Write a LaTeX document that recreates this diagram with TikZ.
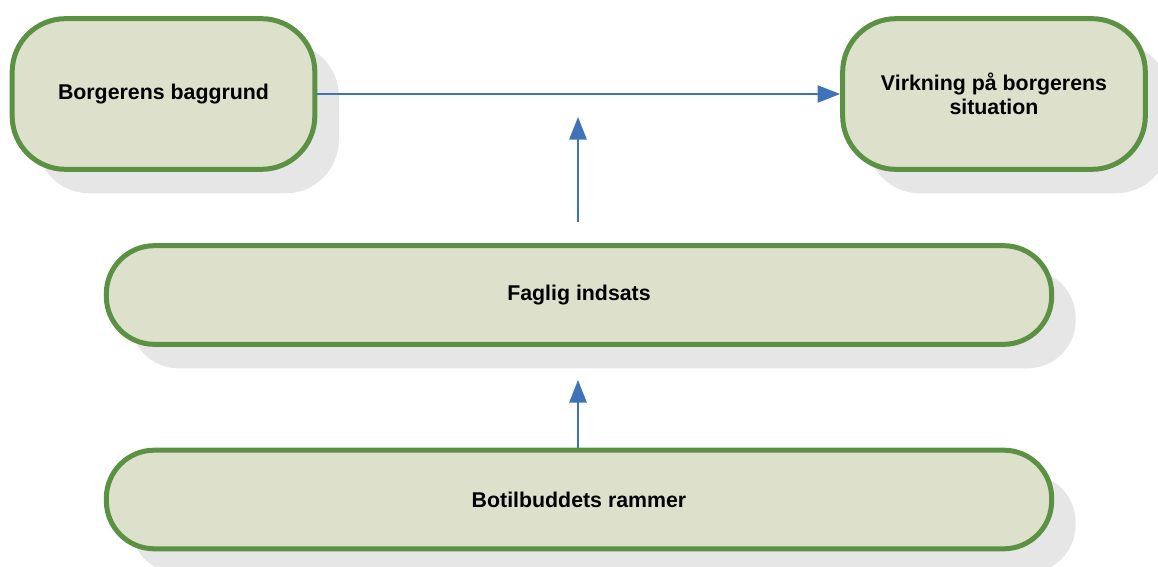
\documentclass[tikz,border=0pt]{standalone}
\usepackage{fontspec}
\setmainfont{Liberation Sans}
\usetikzlibrary{arrows.meta,shadows}
\definecolor{boxfill}{HTML}{DDE1CC}
\definecolor{boxline}{HTML}{5A9142}
\definecolor{shadowgray}{HTML}{E6E6E6}
\definecolor{arrowblue}{HTML}{3F73B8}
\begin{document}
\begin{tikzpicture}[x=0.75pt,y=-0.75pt,
  pill/.style={draw=boxline, fill=boxfill, line width=3.75pt, rounded corners=36pt,
    font=\bfseries\fontsize{16}{18}\selectfont, align=center, inner sep=0pt,
    general shadow={fill=shadowgray, shadow xshift=18pt, shadow yshift=-18pt}},
  conn/.style={draw=arrowblue, -{Triangle[length=17pt,width=13pt]}}
]
\useasboundingbox (0,0) rectangle (1158,567);
\node[pill, rounded corners=40pt, minimum width=227pt, minimum height=113pt] (bg) at (163.5,94) {Borgerens baggrund};
\node[pill, rounded corners=40pt, minimum width=227pt, minimum height=113pt] (vs) at (994,94) {Virkning på borgerens\\situation};
\node[pill, minimum width=709pt, minimum height=74pt] (fi) at (579,295) {Faglig indsats};
\node[pill, minimum width=709pt, minimum height=74pt] (br) at (579,499.5) {Botilbuddets rammer};
\coordinate (a1s) at (578,222);
\coordinate (a1e) at (578,117);
\coordinate (a2e) at (578,380);
\draw[conn, line width=1.1pt] (bg.east) -- (vs.west);
\draw[conn, line width=1.5pt] (a1s) -- (a1e);
\draw[conn, line width=1.5pt] (br.north -| a2e) -- (a2e);
\end{tikzpicture}
\end{document}
